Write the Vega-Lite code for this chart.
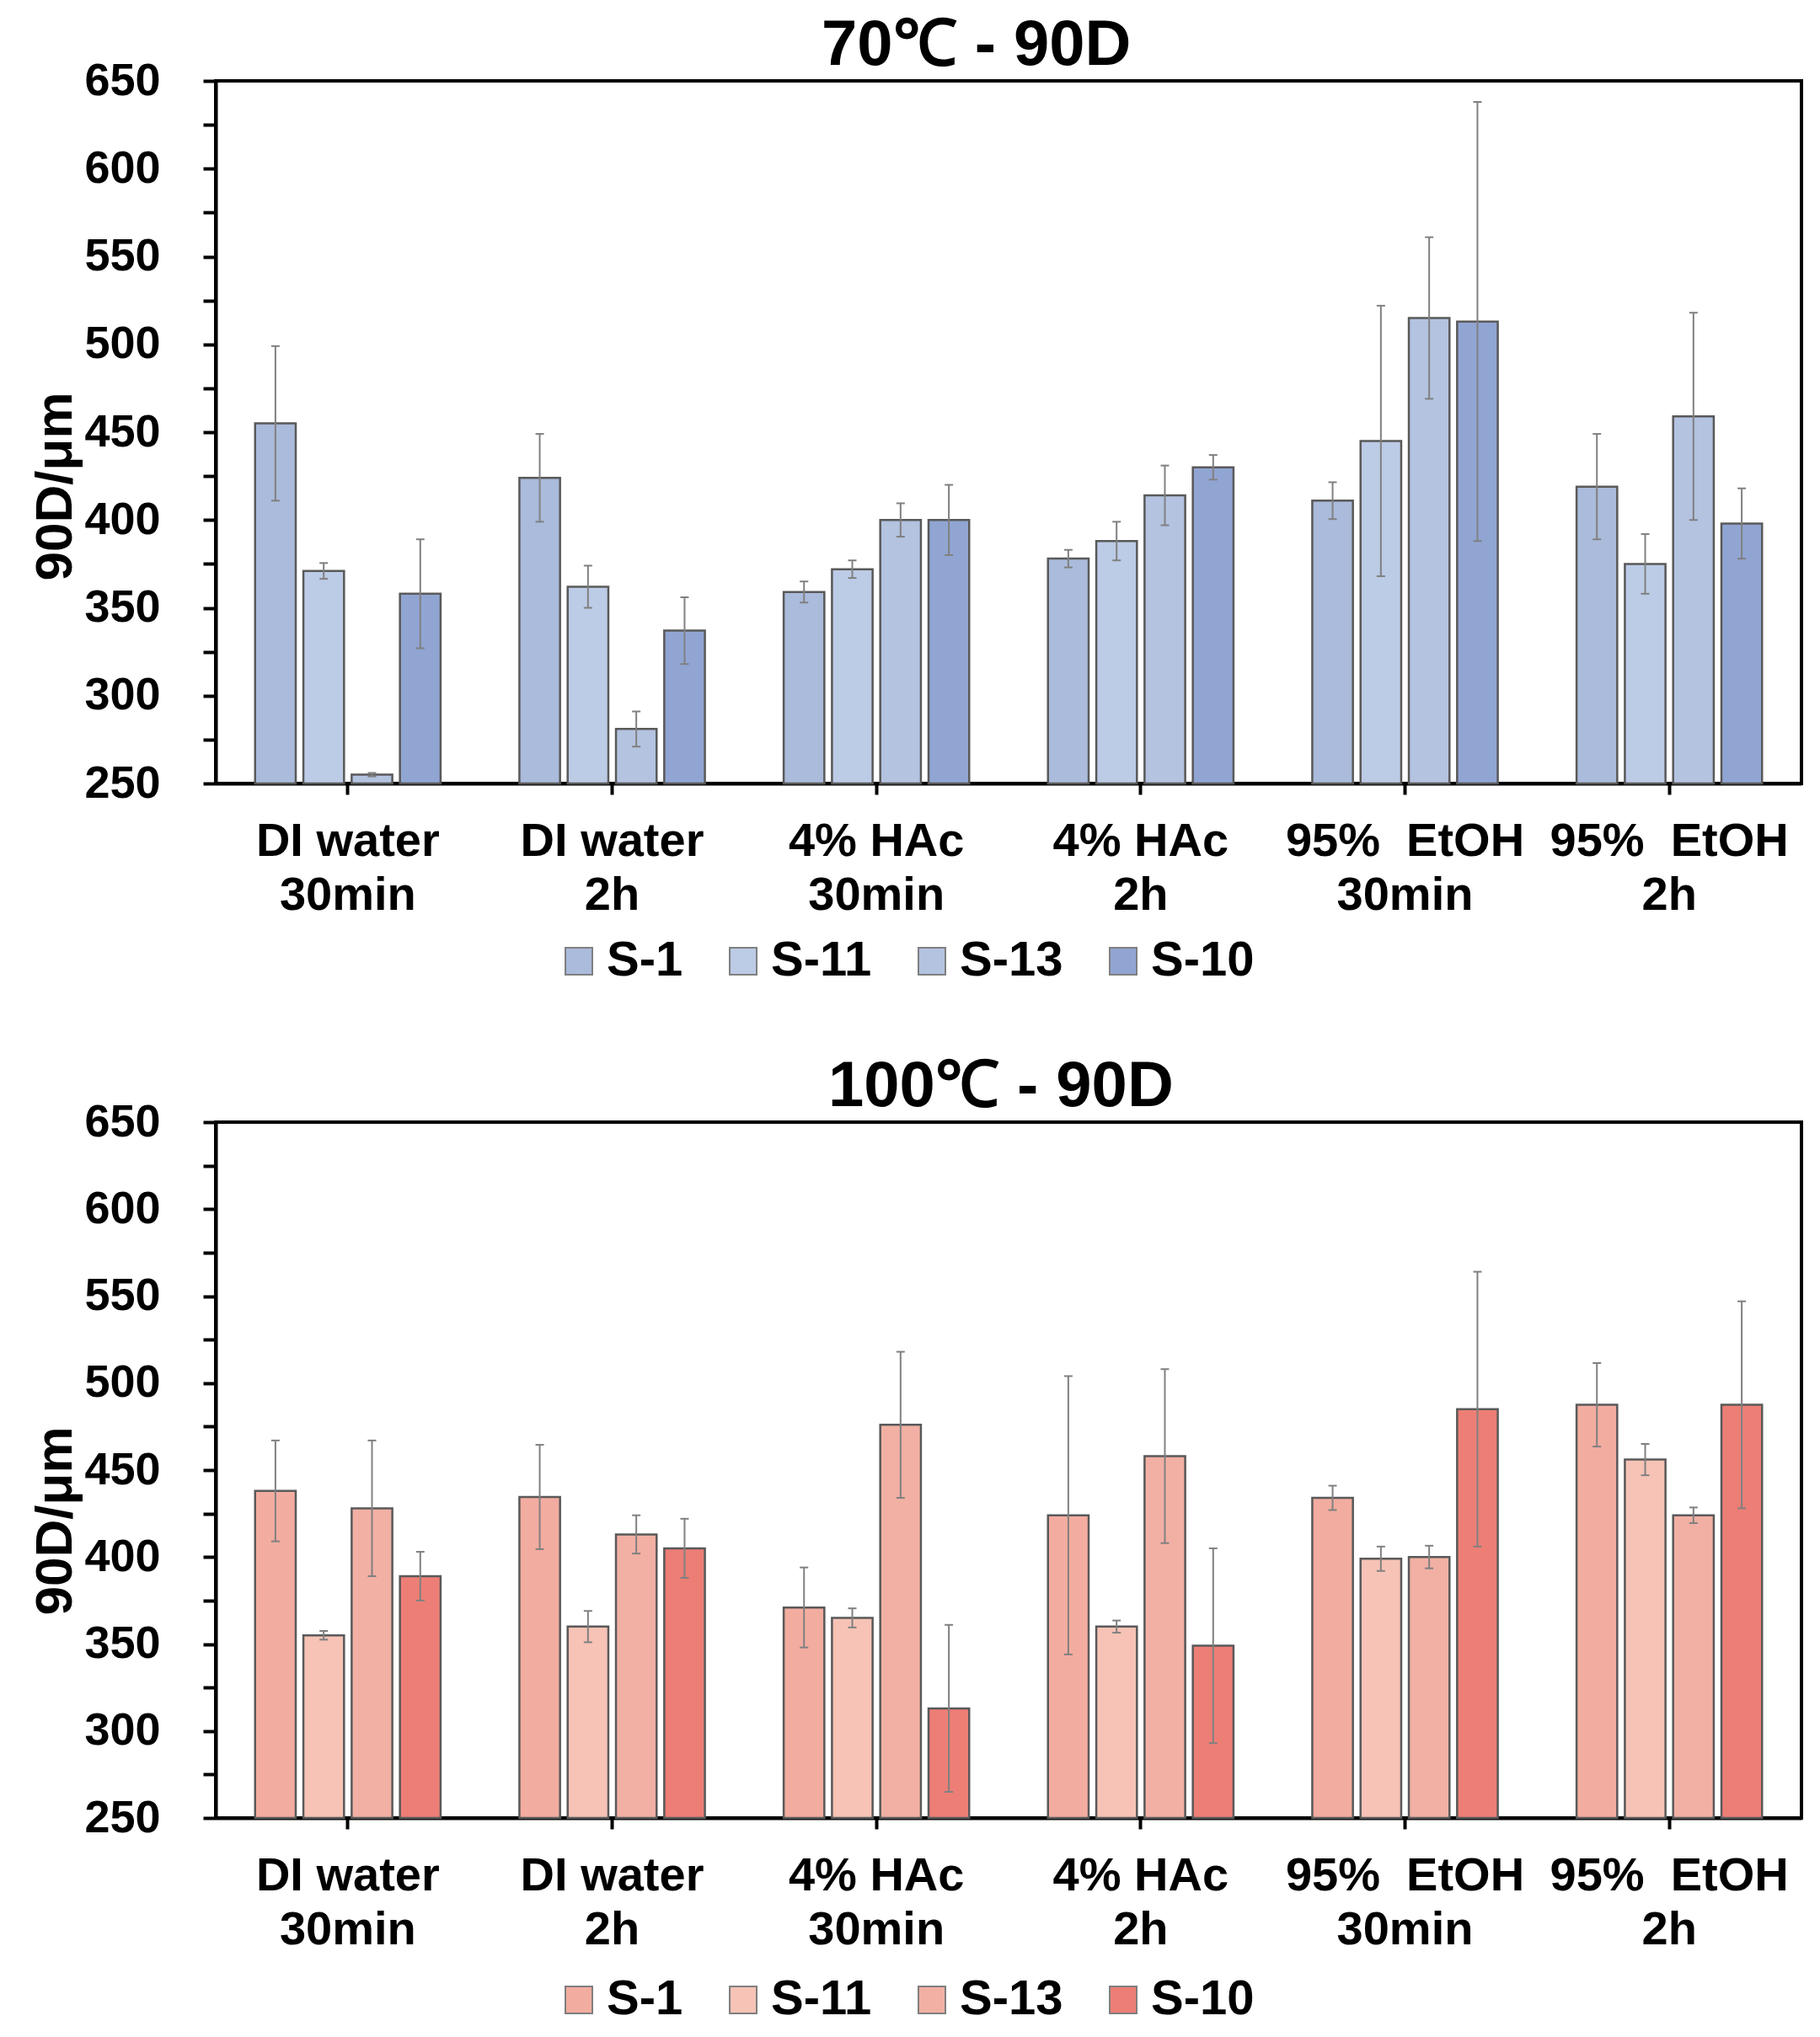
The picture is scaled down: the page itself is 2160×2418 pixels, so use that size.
{
  "$schema": "https://vega.github.io/schema/vega-lite/v6.json",
  "background": "white",
  "padding": {"left": 32, "top": 14, "right": 30, "bottom": 20},
  "datasets": {
    "t70": [
      {"cond": "DI water|30min", "sample": "S-1", "value": 455, "lo": 411, "hi": 499},
      {"cond": "DI water|30min", "sample": "S-11", "value": 371, "lo": 366.5, "hi": 375.5},
      {"cond": "DI water|30min", "sample": "S-13", "value": 255, "lo": 254, "hi": 256},
      {"cond": "DI water|30min", "sample": "S-10", "value": 358, "lo": 327, "hi": 389},
      {"cond": "DI water|2h", "sample": "S-1", "value": 424, "lo": 399, "hi": 449},
      {"cond": "DI water|2h", "sample": "S-11", "value": 362, "lo": 350, "hi": 374},
      {"cond": "DI water|2h", "sample": "S-13", "value": 281, "lo": 271, "hi": 291},
      {"cond": "DI water|2h", "sample": "S-10", "value": 337, "lo": 318, "hi": 356},
      {"cond": "4% HAc|30min", "sample": "S-1", "value": 359, "lo": 353, "hi": 365},
      {"cond": "4% HAc|30min", "sample": "S-11", "value": 372, "lo": 367, "hi": 377},
      {"cond": "4% HAc|30min", "sample": "S-13", "value": 400, "lo": 390.5, "hi": 409.5},
      {"cond": "4% HAc|30min", "sample": "S-10", "value": 400, "lo": 380, "hi": 420},
      {"cond": "4% HAc|2h", "sample": "S-1", "value": 378, "lo": 373, "hi": 383},
      {"cond": "4% HAc|2h", "sample": "S-11", "value": 388, "lo": 377, "hi": 399},
      {"cond": "4% HAc|2h", "sample": "S-13", "value": 414, "lo": 397, "hi": 431},
      {"cond": "4% HAc|2h", "sample": "S-10", "value": 430, "lo": 423, "hi": 437},
      {"cond": "95% \u00a0EtOH|30min", "sample": "S-1", "value": 411, "lo": 400.5, "hi": 421.5},
      {"cond": "95% \u00a0EtOH|30min", "sample": "S-11", "value": 445, "lo": 368, "hi": 522},
      {"cond": "95% \u00a0EtOH|30min", "sample": "S-13", "value": 515, "lo": 469, "hi": 561},
      {"cond": "95% \u00a0EtOH|30min", "sample": "S-10", "value": 513, "lo": 388, "hi": 638},
      {"cond": "95% \u00a0EtOH|2h", "sample": "S-1", "value": 419, "lo": 389, "hi": 449},
      {"cond": "95% \u00a0EtOH|2h", "sample": "S-11", "value": 375, "lo": 358, "hi": 392},
      {"cond": "95% \u00a0EtOH|2h", "sample": "S-13", "value": 459, "lo": 400, "hi": 518},
      {"cond": "95% \u00a0EtOH|2h", "sample": "S-10", "value": 398, "lo": 378, "hi": 418}
    ],
    "t100": [
      {"cond": "DI water|30min", "sample": "S-1", "value": 438, "lo": 409, "hi": 467},
      {"cond": "DI water|30min", "sample": "S-11", "value": 355, "lo": 352.5, "hi": 357.5},
      {"cond": "DI water|30min", "sample": "S-13", "value": 428, "lo": 389, "hi": 467},
      {"cond": "DI water|30min", "sample": "S-10", "value": 389, "lo": 375, "hi": 403},
      {"cond": "DI water|2h", "sample": "S-1", "value": 434.5, "lo": 404.5, "hi": 464.5},
      {"cond": "DI water|2h", "sample": "S-11", "value": 360, "lo": 351, "hi": 369},
      {"cond": "DI water|2h", "sample": "S-13", "value": 413, "lo": 402, "hi": 424},
      {"cond": "DI water|2h", "sample": "S-10", "value": 405, "lo": 388, "hi": 422},
      {"cond": "4% HAc|30min", "sample": "S-1", "value": 371, "lo": 348, "hi": 394},
      {"cond": "4% HAc|30min", "sample": "S-11", "value": 365, "lo": 359.5, "hi": 370.5},
      {"cond": "4% HAc|30min", "sample": "S-13", "value": 476, "lo": 434, "hi": 518},
      {"cond": "4% HAc|30min", "sample": "S-10", "value": 313, "lo": 265, "hi": 361},
      {"cond": "4% HAc|2h", "sample": "S-1", "value": 424, "lo": 344, "hi": 504},
      {"cond": "4% HAc|2h", "sample": "S-11", "value": 360, "lo": 356.5, "hi": 363.5},
      {"cond": "4% HAc|2h", "sample": "S-13", "value": 458, "lo": 408, "hi": 508},
      {"cond": "4% HAc|2h", "sample": "S-10", "value": 349, "lo": 293, "hi": 405},
      {"cond": "95% \u00a0EtOH|30min", "sample": "S-1", "value": 434, "lo": 427, "hi": 441},
      {"cond": "95% \u00a0EtOH|30min", "sample": "S-11", "value": 399, "lo": 392, "hi": 406},
      {"cond": "95% \u00a0EtOH|30min", "sample": "S-13", "value": 400, "lo": 393.5, "hi": 406.5},
      {"cond": "95% \u00a0EtOH|30min", "sample": "S-10", "value": 485, "lo": 406, "hi": 564},
      {"cond": "95% \u00a0EtOH|2h", "sample": "S-1", "value": 487.5, "lo": 463.5, "hi": 511.5},
      {"cond": "95% \u00a0EtOH|2h", "sample": "S-11", "value": 456, "lo": 447, "hi": 465},
      {"cond": "95% \u00a0EtOH|2h", "sample": "S-13", "value": 424, "lo": 419.5, "hi": 428.5},
      {"cond": "95% \u00a0EtOH|2h", "sample": "S-10", "value": 487.5, "lo": 428, "hi": 547}
    ]
  },
  "vconcat": [
    {
      "width": 1882,
      "height": 834,
      "data": {"name": "t70"},
      "title": {"text": "70℃ - 90D", "anchor": "start", "frame": "group", "dx": 719, "offset": -84, "baseline": "alphabetic", "fontSize": 76, "font": "Liberation Sans", "fontWeight": "bold", "color": "black"},
      "encoding": {
        "x": {
          "field": "cond", "type": "nominal", "title": null,
          "sort": ["DI water|30min", "DI water|2h", "4% HAc|30min", "4% HAc|2h", "95% \u00a0EtOH|30min", "95% \u00a0EtOH|2h"],
          "scale": {"paddingInner": 0, "paddingOuter": 0},
          "axis": {"labelAngle": 0, "labelExpr": "split(datum.label, '|')", "labelLineHeight": 64, "labelFontSize": 56, "labelFontWeight": "bold", "labelLimit": 0, "labelOverlap": false, "tickSize": 13, "labelPadding": 28}
        },
        "xOffset": {
          "field": "sample", "type": "nominal",
          "sort": ["S-1", "S-11", "S-13", "S-10"],
          "scale": {"paddingInner": 0.158, "paddingOuter": 0.816}
        }
      },
      "layer": [
        {
          "mark": {"type": "bar", "stroke": "#595959", "strokeWidth": 2.5},
          "encoding": {
            "y": {
              "field": "value", "type": "quantitative", "title": "90D/μm",
              "scale": {"domain": [250, 650], "nice": false, "zero": false},
              "axis": {"values": [250, 275, 300, 325, 350, 375, 400, 425, 450, 475, 500, 525, 550, 575, 600, 625, 650], "labelExpr": "datum.value % 50 === 0 ? datum.label : ''", "labelFontSize": 54, "labelFontWeight": "bold", "tickSize": 15, "labelPadding": 51, "titleFontSize": 62, "titleFontWeight": "bold", "titlePadding": 2, "titleY": 481}
            },
            "y2": {"datum": 250},
            "color": {
              "field": "sample", "type": "nominal",
              "scale": {"domain": ["S-1", "S-11", "S-13", "S-10"], "range": ["#aabbdb", "#bccbe6", "#b3c3e0", "#91a5d3"]},
              "legend": {"title": null, "orient": "none", "direction": "horizontal", "legendX": 402, "legendY": 1016, "padding": 0, "columnPadding": 42, "labelOffset": 4, "symbolType": "square", "symbolSize": 1024, "symbolStrokeColor": "#7f7f7f", "symbolStrokeWidth": 2, "symbolOpacity": 1, "labelFontSize": 58, "labelFontWeight": "bold", "labelFont": "Liberation Sans", "labelColor": "black"}
            }
          }
        },
        {
          "mark": {"type": "rule", "color": "#808080", "strokeWidth": 2},
          "encoding": {
            "y": {"field": "lo", "type": "quantitative", "title": "90D/μm"},
            "y2": {"field": "hi"}
          }
        },
        {
          "mark": {"type": "tick", "orient": "horizontal", "size": 10, "thickness": 2, "color": "#808080", "opacity": 1},
          "encoding": {"y": {"field": "lo", "type": "quantitative", "title": "90D/μm"}}
        },
        {
          "mark": {"type": "tick", "orient": "horizontal", "size": 10, "thickness": 2, "color": "#808080", "opacity": 1},
          "encoding": {"y": {"field": "hi", "type": "quantitative", "title": "90D/μm"}}
        }
      ]
    },
    {
      "width": 1882,
      "height": 826,
      "data": {"name": "t100"},
      "title": {"text": "100℃ - 90D", "anchor": "start", "frame": "group", "dx": 727, "offset": -84, "baseline": "alphabetic", "fontSize": 76, "font": "Liberation Sans", "fontWeight": "bold", "color": "black"},
      "encoding": {
        "x": {
          "field": "cond", "type": "nominal", "title": null,
          "sort": ["DI water|30min", "DI water|2h", "4% HAc|30min", "4% HAc|2h", "95% \u00a0EtOH|30min", "95% \u00a0EtOH|2h"],
          "scale": {"paddingInner": 0, "paddingOuter": 0},
          "axis": {"labelAngle": 0, "labelExpr": "split(datum.label, '|')", "labelLineHeight": 64, "labelFontSize": 56, "labelFontWeight": "bold", "labelLimit": 0, "labelOverlap": false, "tickSize": 13, "labelPadding": 28}
        },
        "xOffset": {
          "field": "sample", "type": "nominal",
          "sort": ["S-1", "S-11", "S-13", "S-10"],
          "scale": {"paddingInner": 0.158, "paddingOuter": 0.816}
        }
      },
      "layer": [
        {
          "mark": {"type": "bar", "stroke": "#595959", "strokeWidth": 2.5},
          "encoding": {
            "y": {
              "field": "value", "type": "quantitative", "title": "90D/μm",
              "scale": {"domain": [250, 650], "nice": false, "zero": false},
              "axis": {"values": [250, 275, 300, 325, 350, 375, 400, 425, 450, 475, 500, 525, 550, 575, 600, 625, 650], "labelExpr": "datum.value % 50 === 0 ? datum.label : ''", "labelFontSize": 54, "labelFontWeight": "bold", "tickSize": 15, "labelPadding": 51, "titleFontSize": 62, "titleFontWeight": "bold", "titlePadding": 2, "titleY": 473}
            },
            "y2": {"datum": 250},
            "color": {
              "field": "sample", "type": "nominal",
              "scale": {"domain": ["S-1", "S-11", "S-13", "S-10"], "range": ["#f3aca0", "#f6c3b6", "#f2b0a4", "#ed7e76"]},
              "legend": {"title": null, "orient": "none", "direction": "horizontal", "legendX": 402, "legendY": 1013, "padding": 0, "columnPadding": 42, "labelOffset": 4, "symbolType": "square", "symbolSize": 1024, "symbolStrokeColor": "#7f7f7f", "symbolStrokeWidth": 2, "symbolOpacity": 1, "labelFontSize": 58, "labelFontWeight": "bold", "labelFont": "Liberation Sans", "labelColor": "black"}
            }
          }
        },
        {
          "mark": {"type": "rule", "color": "#808080", "strokeWidth": 2},
          "encoding": {
            "y": {"field": "lo", "type": "quantitative", "title": "90D/μm"},
            "y2": {"field": "hi"}
          }
        },
        {
          "mark": {"type": "tick", "orient": "horizontal", "size": 10, "thickness": 2, "color": "#808080", "opacity": 1},
          "encoding": {"y": {"field": "lo", "type": "quantitative", "title": "90D/μm"}}
        },
        {
          "mark": {"type": "tick", "orient": "horizontal", "size": 10, "thickness": 2, "color": "#808080", "opacity": 1},
          "encoding": {"y": {"field": "hi", "type": "quantitative", "title": "90D/μm"}}
        }
      ]
    }
  ],
  "spacing": 402,
  "bounds": "flush",
  "resolve": {"scale": {"color": "independent", "y": "independent", "x": "independent", "xOffset": "independent"}, "legend": {"color": "independent"}},
  "config": {
    "font": "Liberation Sans",
    "view": {"stroke": "black", "strokeWidth": 4},
    "axis": {"domainColor": "black", "domainWidth": 4, "tickColor": "black", "tickWidth": 4, "grid": false, "labelFont": "Liberation Sans", "titleFont": "Liberation Sans", "labelColor": "black", "titleColor": "black"}
  }
}
